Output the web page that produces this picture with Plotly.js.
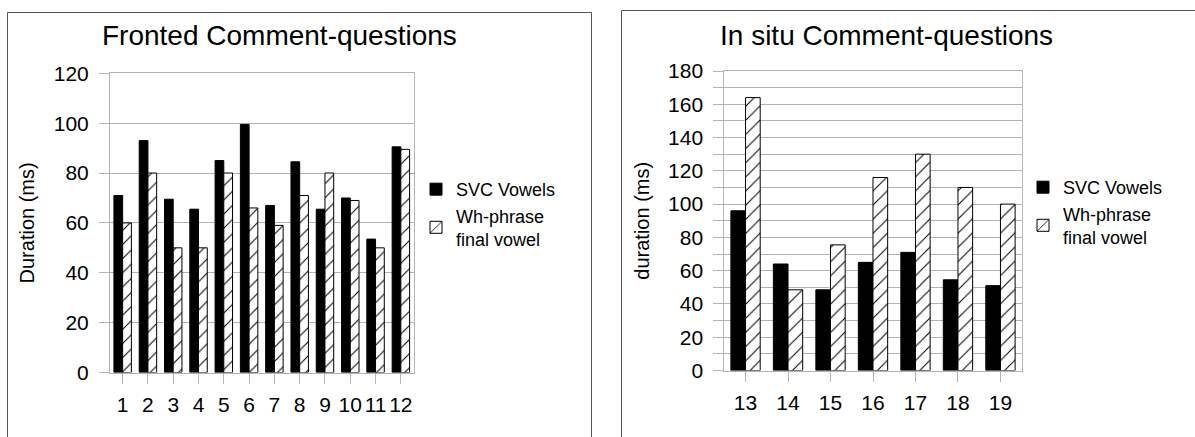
<!DOCTYPE html>
<html>
<head>
<meta charset="utf-8">
<script src="https://cdn.plot.ly/plotly-3.0.1.min.js"></script>
<style>
  html, body { margin: 0; padding: 0; background: #fff; }
  #chart { width: 1195px; height: 437px; }
</style>
</head>
<body>
<div id="chart"></div>
<script>
// Fronted comment-questions: tokens 1-12
const frontedTokens = ['1', '2', '3', '4', '5', '6', '7', '8', '9', '10', '11', '12'];
const frontedSVC = [71, 93, 69.5, 65.5, 85, 99.5, 67, 84.5, 65.5, 70, 53.5, 90.5];
const frontedWh = [60, 80, 50, 50, 80, 66, 59, 71, 80, 69, 50, 89.5];

// In situ comment-questions: tokens 13-19
const inSituTokens = ['13', '14', '15', '16', '17', '18', '19'];
const inSituSVC = [96, 64, 48.5, 65, 71, 54.5, 51];
const inSituWh = [164, 48.5, 75.5, 116, 130, 110, 100];

const seriesNames = ['SVC Vowels', 'Wh-phrase<br>final vowel'];
const chartTitles = ['Fronted Comment-questions', 'In situ Comment-questions'];
const axisTitles = ['Duration (ms)', 'duration (ms)'];

// canvas and pixel -> paper helpers
const W = 1195, H = 437;
const px = v => v / W;
const py = v => 1 - v / H;

const FONT = 'Liberation Sans, Arial, Helvetica, sans-serif';
const GRID = '#b3b3b3';

const solid = { color: '#000000', line: { color: '#000000', width: 1 } };
const hatched = {
  color: '#ffffff',
  pattern: { shape: '/', fgcolor: '#000000', bgcolor: '#ffffff', size: 10, solidity: 0.1 },
  line: { color: '#000000', width: 1 }
};

const traces = [
  { type: 'bar', x: frontedTokens, y: frontedSVC, name: seriesNames[0], xaxis: 'x', yaxis: 'y', legend: 'legend', marker: solid, hoverinfo: 'none' },
  { type: 'bar', x: frontedTokens, y: frontedWh, name: seriesNames[1], xaxis: 'x', yaxis: 'y', legend: 'legend', marker: hatched, hoverinfo: 'none' },
  { type: 'bar', x: inSituTokens, y: inSituSVC, name: seriesNames[0], xaxis: 'x2', yaxis: 'y2', legend: 'legend2', marker: solid, hoverinfo: 'none' },
  { type: 'bar', x: inSituTokens, y: inSituWh, name: seriesNames[1], xaxis: 'x2', yaxis: 'y2', legend: 'legend2', marker: hatched, hoverinfo: 'none' }
];

const tickFont = { family: FONT, size: 21, color: '#000' };

function catAxis(domain, anchor) {
  return {
    domain: domain, anchor: anchor, type: 'category',
    showline: true, linecolor: GRID, linewidth: 1, mirror: true,
    ticks: 'outside', ticklen: 10, tickcolor: GRID, tickwidth: 1,
    tickfont: tickFont, ticklabelstandoff: 3,
    showgrid: false, zeroline: false, fixedrange: true
  };
}

function valAxis(domain, anchor, range, title, minor) {
  const ax = {
    domain: domain, anchor: anchor, range: range, tickmode: 'linear', tick0: 0, dtick: 20,
    showline: true, linecolor: GRID, linewidth: 1, mirror: true,
    ticks: 'outside', ticklen: 10, tickcolor: GRID, tickwidth: 1,
    showgrid: true, gridcolor: GRID, gridwidth: 1, zeroline: false,
    tickfont: tickFont, ticklabelstandoff: 6,
    title: { text: title, font: { family: FONT, size: 20, color: '#000' }, standoff: 13 },
    fixedrange: true
  };
  if (minor) {
    ax.minor = { dtick: 10, showgrid: true, gridcolor: GRID, gridwidth: 1, ticks: 'outside', ticklen: 10, tickcolor: GRID };
  }
  return ax;
}

const legendBase = {
  xanchor: 'left', yanchor: 'top', bgcolor: 'rgba(0,0,0,0)', borderwidth: 0,
  font: { family: FONT, size: 18, color: '#000' }, tracegroupgap: 0, traceorder: 'normal'
};

const layout = {
  width: W, height: H,
  margin: { l: 0, r: 0, t: 0, b: 0 },
  paper_bgcolor: '#fff', plot_bgcolor: '#fff',
  font: { family: FONT, color: '#000' },
  barmode: 'group', bargap: 0.31, bargroupgap: 0,
  xaxis: catAxis([px(110), px(413.5)], 'y'),
  yaxis: valAxis([py(372.5), py(73.3)], 'x', [0, 120], axisTitles[0], false),
  xaxis2: catAxis([px(724.3), px(1021.7)], 'y2'),
  yaxis2: valAxis([py(370.5), py(71)], 'x2', [0, 180], axisTitles[1], true),
  legend: Object.assign({}, legendBase, { x: px(416), y: py(171) }),
  legend2: Object.assign({}, legendBase, { x: px(1023), y: py(169) }),
  annotations: [
    { text: chartTitles[0], xref: 'paper', yref: 'paper', x: px(279.5), y: py(36), xanchor: 'center', yanchor: 'middle', showarrow: false, font: { family: FONT, size: 28, color: '#000' } },
    { text: chartTitles[1], xref: 'paper', yref: 'paper', x: px(886), y: py(36), xanchor: 'center', yanchor: 'middle', showarrow: false, font: { family: FONT, size: 28, color: '#000' } }
  ],
  shapes: [
    { type: 'rect', xref: 'paper', yref: 'paper', x0: px(7.5), x1: px(591.5), y0: py(12.5), y1: py(460), line: { color: '#555', width: 1 }, fillcolor: 'rgba(0,0,0,0)' },
    { type: 'rect', xref: 'paper', yref: 'paper', x0: px(621.5), x1: px(1220), y0: py(10.5), y1: py(460), line: { color: '#555', width: 1 }, fillcolor: 'rgba(0,0,0,0)' }
  ]
};

Plotly.newPlot('chart', traces, layout, { displayModeBar: false, staticPlot: true });
</script>
</body>
</html>
